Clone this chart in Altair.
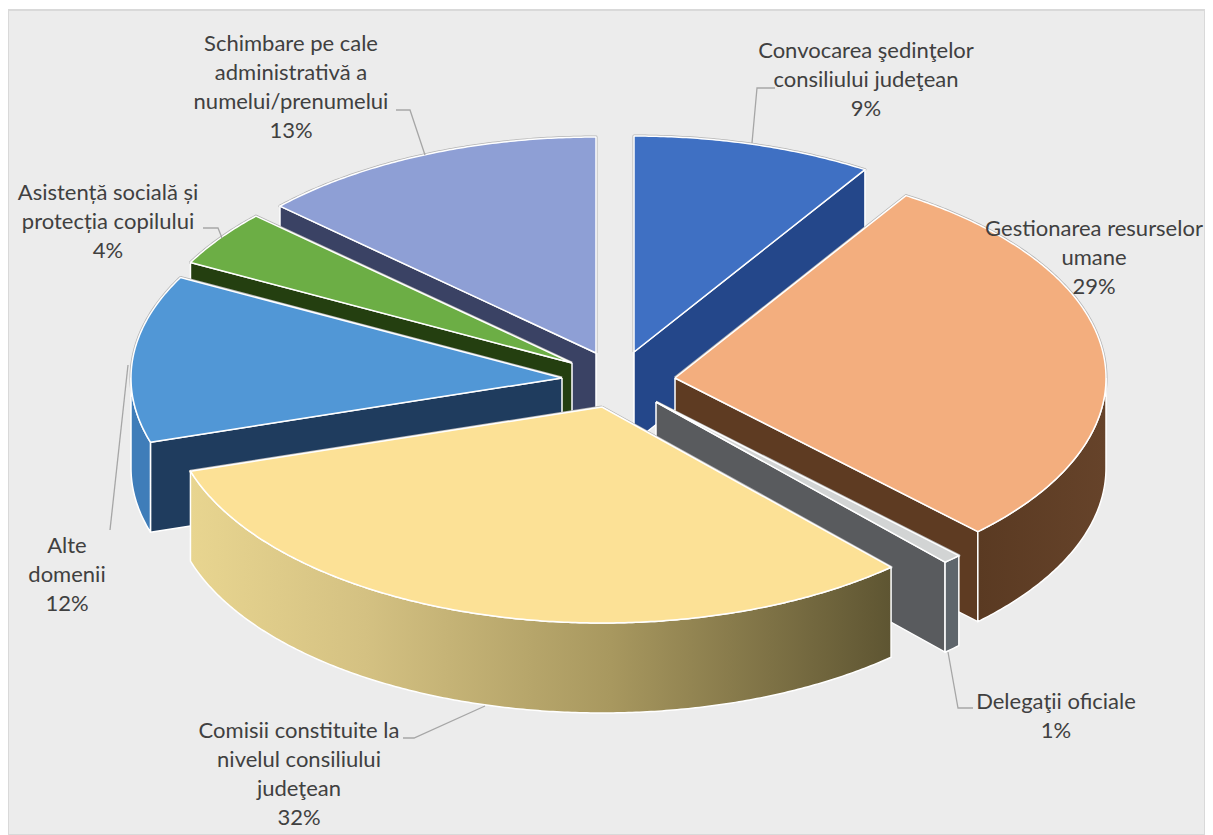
import numpy as np
import pandas as pd
import altair as alt

categories = ["Convocarea", "Gestionarea", "Delegatii", "Comisii", "Alte", "Asistenta", "Schimbare"]
shares = [9.0, 28.6, 0.7, 31.9, 12.5, 4.2, 13.1]
label_texts = [
    "Convocarea şedinţelor\nconsiliului judeţean\n9%",
    "Gestionarea resurselor\numane\n29%",
    "Delegaţii oficiale\n1%",
    "Comisii constituite la\nnivelul consiliului\njudeţean\n32%",
    "Alte\ndomenii\n12%",
    "Asistență socială și\nprotecția copilului\n4%",
    "Schimbare pe cale\nadministrativă a\nnumelui/prenumelui\n13%",
]
label_x = [866, 1094, 1056, 299, 67, 108, 291]
label_y = [51, 229, 702, 731, 546, 193, 44]
leaders = [
    [(752, 143), (757, 88), (775, 88)],
    [(948, 652), (958, 708), (973, 708)],
    [(485, 706), (414, 738), (403, 738)],
    [(128, 365), (110, 530)],
    [(203, 228), (218, 228), (222, 238)],
    [(425, 155), (410, 110), (396, 110)],
]
centers = {
    "Convocarea": (634, 352), "Gestionarea": (675, 378), "Delegatii": (656, 402),
    "Comisii": (602, 407), "Alte": (562, 378), "Asistenta": (572, 363), "Schimbare": (596, 353),
}
top_color = {
    "Convocarea": "#3f70c3", "Gestionarea": "#f3ae7e", "Delegatii": "#d2d4d4",
    "Comisii": "#fce196", "Alte": "#5197d6", "Asistenta": "#6cae45", "Schimbare": "#8e9fd5",
}
wall_color = {
    "Convocarea": "#24478a", "Gestionarea": "#5e3b22", "Delegatii": "#595b5e",
    "Comisii": "#5f5533", "Alte": "#1f3c5e", "Asistenta": "#243f10", "Schimbare": "#3a4264",
}
rim_color = {
    "Gestionarea": alt.LinearGradient(gradient="linear", x1=0, x2=1, y1=0, y2=0, stops=[
        alt.GradientStop(color="#5a3a22", offset=0), alt.GradientStop(color="#66432a", offset=1)]),
    "Delegatii": "#5f666c",
    "Comisii": alt.LinearGradient(gradient="linear", x1=0, x2=1, y1=0, y2=0, stops=[
        alt.GradientStop(color="#e8d590", offset=0), alt.GradientStop(color="#d4c182", offset=0.25),
        alt.GradientStop(color="#a8985f", offset=0.6), alt.GradientStop(color="#5e5532", offset=1)]),
    "Alte": "#3f7db9",
}
RX, RY, DEPTH = 431, 216, 90
PANEL = [(8, 10), (1205, 10), (1205, 835), (8, 835), (8, 10)]


def rim(c, t0, t1, dy=0):
    ts = np.radians(np.linspace(t0, t1, max(2, int(abs(t1 - t0)) * 2 + 2)))
    return [(c[0] + RX * np.sin(t), c[1] - RY * np.cos(t) + dy) for t in ts]


def poly(points, fill, stroke="white", width=1.5):
    df = pd.DataFrame(points + points[:1], columns=["x", "y"])
    df["i"] = range(len(df))
    return alt.Chart(df).mark_line(fill=fill, stroke=stroke, strokeWidth=width, strokeJoin="round").encode(
        x=X, y=Y, order=alt.Order("i:Q"))


X = alt.X("x:Q", scale=alt.Scale(domain=[8, 1205], nice=False, zero=False), axis=None)
Y = alt.Y("y:Q", scale=alt.Scale(domain=[835, 8], nice=False, zero=False), axis=None)

edges = np.concatenate([[0], np.cumsum(shares)]) * 3.6
spans = {c: (edges[i], edges[i + 1]) for i, c in enumerate(categories)}
paint_order = ["Schimbare", "Asistenta", "Alte", "Convocarea", "Gestionarea", "Delegatii", "Comisii"]

layers = [poly(PANEL, "#ececec", "#d9d9d9", 2)]
for c in paint_order:
    t0, t1 = spans[c]
    o = centers[c]
    apex_low = (o[0], o[1] + DEPTH)
    sil = [o] + rim(o, t0, t1)
    layers.append(poly(sil, top_color[c], "#b4b4b4", 3))
    if c in ("Convocarea", "Gestionarea", "Delegatii"):
        p = rim(o, t1, t1)[0]
        layers.append(poly([o, p, (p[0], p[1] + DEPTH), apex_low], wall_color[c]))
    elif c in ("Alte", "Asistenta", "Schimbare"):
        p = rim(o, t0, t0)[0]
        layers.append(poly([o, p, (p[0], p[1] + DEPTH), apex_low], wall_color[c]))
    a, b = max(t0, 90), min(t1, 270)
    if b > a:
        layers.append(poly(rim(o, a, b) + rim(o, b, a, DEPTH), rim_color[c]))
    layers.append(poly(sil, top_color[c]))

for pts in leaders:
    df = pd.DataFrame(pts, columns=["x", "y"])
    df["i"] = range(len(df))
    layers.append(alt.Chart(df).mark_line(color="#a6a6a6", strokeWidth=1.3).encode(x=X, y=Y, order=alt.Order("i:Q")))

labels = pd.DataFrame({"x": label_x, "y": label_y, "t": label_texts})
layers.append(alt.Chart(labels).mark_text(
    font="Lato", fontSize=22, color="#404040", align="center", baseline="middle",
    lineBreak="\n", lineHeight=29).encode(x=X, y=Y, text="t:N"))

chart = alt.layer(*layers).properties(
    width=1197, height=827, padding=0, autosize=alt.AutoSizeParams(type="none"),
    background="white").configure_view(stroke=None)
chart.save("out.html", embed_options={"renderer": "svg", "actions": False})
